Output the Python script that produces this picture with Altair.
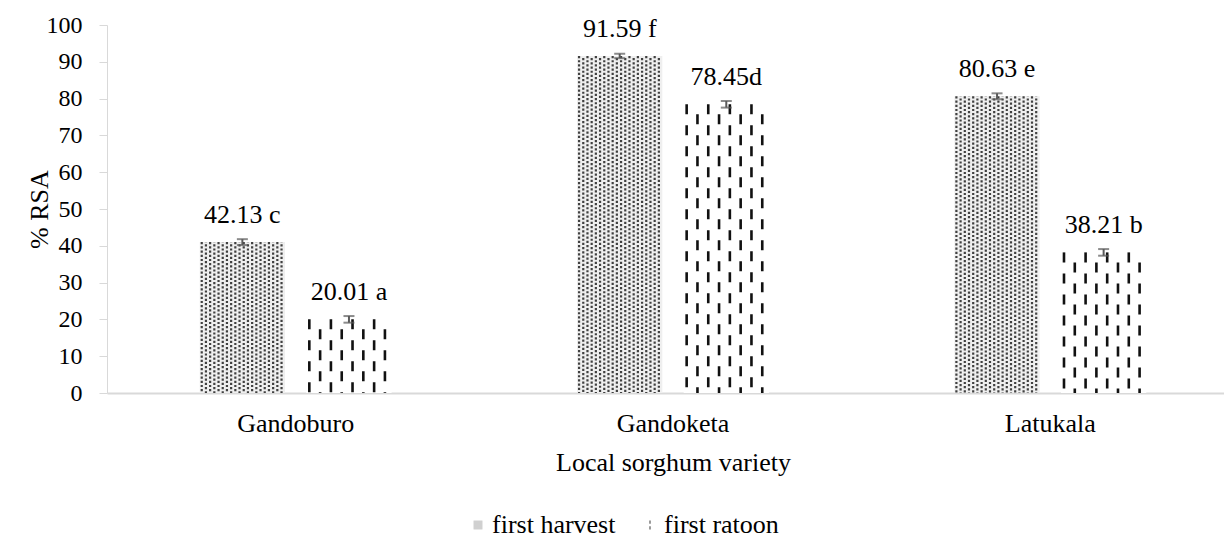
import altair as alt
import pandas as pd

# ---- data ----
varieties = ["Gandoburo", "Gandoketa", "Latukala"]
series = ["first harvest", "first ratoon"]
harvest_vals = [41.0, 91.59, 80.63]
ratoon_vals = [20.01, 78.45, 38.21]
harvest_err = [0.8, 0.6, 0.8]
ratoon_err = [0.9, 0.9, 0.9]
harvest_labels = ["42.13 c", "91.59 f", "80.63 e"]
ratoon_labels = ["20.01 a", "78.45d", "38.21 b"]
y_ticks = list(range(0, 101, 10))

rows = []
for i, v in enumerate(varieties):
    rows.append(dict(variety=v, series=series[0], value=harvest_vals[i],
                     err=harvest_err[i], label=harvest_labels[i]))
    rows.append(dict(variety=v, series=series[1], value=ratoon_vals[i],
                     err=ratoon_err[i], label=ratoon_labels[i]))
df = pd.DataFrame(rows)
df["lo"] = df["value"] - df["err"]
df["hi"] = df["value"] + df["err"]

# ---- layout / style ----
W, H = 1132, 368
PAD_IN, PAD_OUT = 0.2, 0.87
FONT = "Liberation Serif"
group_px = W / len(varieties)
step = 1 / (2 - PAD_IN + 2 * PAD_OUT)
bar_frac = step * (1 - PAD_IN)
left_frac = {series[0]: PAD_OUT * step, series[1]: PAD_OUT * step + step}
bar_px = bar_frac * group_px


def pattern_rows(ser, spacing_px, first_px):
    out = []
    sub = df[df["series"] == ser]
    n = int((bar_px - first_px) // spacing_px) + 1
    for _, r in sub.iterrows():
        for k in range(n):
            px = first_px + k * spacing_px
            if px > bar_px - 1:
                continue
            out.append(dict(variety=r["variety"], value=r["value"], col=k,
                            u=left_frac[ser] + px / group_px))
    return pd.DataFrame(out)


dots = pattern_rows(series[0], 4.2, 2.0)
dashes = pattern_rows(series[1], 10.8, 3.0)

X_AX = alt.Axis(title="Local sorghum variety", labelAngle=0, ticks=False,
                domainColor="#d9d9d9", domainWidth=2, labelPadding=17,
                labelFont=FONT, labelFontSize=26, labelColor="black",
                titleFont=FONT, titleFontSize=26, titleFontWeight="normal",
                titleColor="black", titlePadding=13)
Y_AX = alt.Axis(title="% RSA", values=y_ticks, grid=False, labelOverlap=False,
                domainColor="#d9d9d9", tickColor="#d9d9d9", tickSize=8,
                labelPadding=17, labelFont=FONT, labelFontSize=24,
                labelColor="black", titleFont=FONT, titleFontSize=26,
                titleFontWeight="normal", titleColor="black", titlePadding=-6)
X_SC = alt.Scale(paddingInner=0, paddingOuter=0)
Y_SC = alt.Scale(domain=[0, 100], nice=False)


def X():
    return alt.X("variety:N", sort=varieties, scale=X_SC, axis=X_AX)


def Y(field):
    return alt.Y(f"{field}:Q", scale=Y_SC, axis=Y_AX)


XOFF = alt.XOffset("series:N", sort=series,
                   scale=alt.Scale(type="band", domain=series,
                                   paddingInner=PAD_IN, paddingOuter=PAD_OUT))

legend = alt.Legend(
    title=None, orient="none", direction="horizontal", legendX=358, legendY=487,
    labelFont=FONT, labelFontSize=26, labelColor="black", symbolSize=80,
    labelOffset=1, columnPadding=21, symbolStrokeWidth=0)

base = alt.Chart(df)
bars = base.mark_bar().encode(
    x=X(), xOffset=XOFF, y=Y("value"),
    color=alt.condition(alt.datum.series == series[0],
                        alt.value("#efefef"), alt.value("#ffffff")))

legend_layer = base.mark_point(filled=True, size=0).encode(
    x=X(), y=Y("value"),
    fill=alt.Fill("series:N", sort=series,
                  scale=alt.Scale(domain=series, range=["#a0a0a0", "#1a1a1a"]),
                  legend=legend),
    shape=alt.Shape("series:N", sort=series,
                    scale=alt.Scale(domain=series,
                                    range=["square",
                                           "M-0.2,-1H0.2V-0.3H-0.2ZM-0.2,0.3H0.2V1H-0.2Z"]),
                    legend=legend))


def pattern_layer(data, dash, offset, color, width):
    return alt.Chart(data).mark_rule(
        strokeDash=dash, strokeDashOffset=offset, color=color, strokeWidth=width
    ).encode(
        x=X(),
        xOffset=alt.XOffset("u:Q", scale=alt.Scale(domain=[0, 1], nice=False, zero=False)),
        y=Y("value"),
        y2=alt.datum(0))


dot_even = pattern_layer(dots[dots["col"] % 2 == 0], [2.2, 2.0], 0, "#404040", 2.2)
dot_odd = pattern_layer(dots[dots["col"] % 2 == 1], [2.2, 2.0], 2.1, "#404040", 2.2)
dash_even = pattern_layer(dashes[dashes["col"] % 2 == 0], [10, 11], 0, "#111111", 2.6)
dash_odd = pattern_layer(dashes[dashes["col"] % 2 == 1], [10, 11], 11, "#111111", 2.6)

err_rule = base.mark_rule(color="#5a5a5a", strokeWidth=2).encode(
    x=X(), xOffset=XOFF, y=Y("lo"), y2="hi:Q")
err_lo = base.mark_tick(color="#5a5a5a", size=11, thickness=2, orient="horizontal").encode(
    x=X(), xOffset=XOFF, y=Y("lo"))
err_hi = base.mark_tick(color="#5a5a5a", size=11, thickness=2, orient="horizontal").encode(
    x=X(), xOffset=XOFF, y=Y("hi"))

labels = base.mark_text(dy=-19, baseline="alphabetic", font=FONT, fontSize=26,
                        color="black").encode(
    x=X(), xOffset=XOFF, y=Y("value"), text="label:N")

chart = alt.layer(
    bars, legend_layer, dot_even, dot_odd, dash_even, dash_odd,
    err_rule, err_lo, err_hi, labels
).resolve_scale(xOffset="independent").properties(
    width=W, height=H,
    autosize=alt.AutoSizeParams(type="none"),
    padding={"left": 99, "top": 17, "right": -15, "bottom": 143},
).configure_view(stroke=None)

chart.save("out.html", embed_options={"renderer": "svg", "actions": False})
